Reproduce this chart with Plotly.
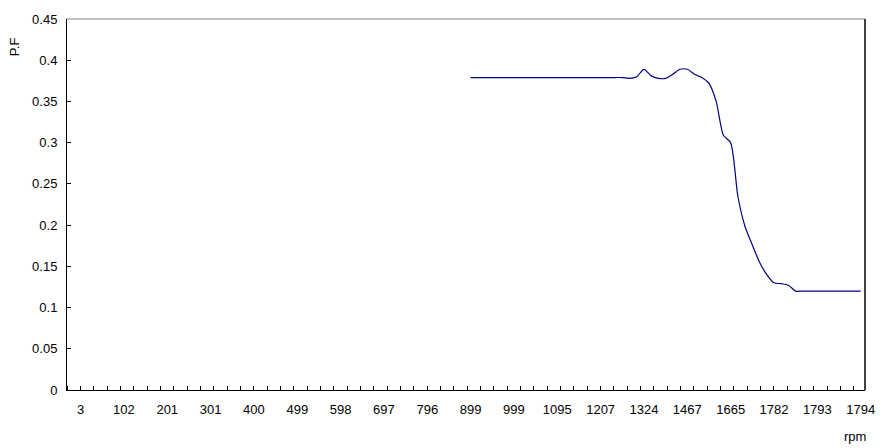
import plotly.graph_objects as go

# ---- data ----
tick_labels = ["3", "102", "201", "301", "400", "499", "598", "697", "796", "899",
               "999", "1095", "1207", "1324", "1467", "1665", "1782", "1793", "1794"]
samples_per_label = 6  # sample index s -> label position s/6

sample_index = list(range(54, 109))
pf_values = [
    0.379, 0.379, 0.379, 0.379, 0.379, 0.379, 0.379, 0.379, 0.379, 0.379,   # 54-63
    0.379, 0.379, 0.379, 0.379, 0.379, 0.379, 0.379, 0.379, 0.379, 0.379,   # 64-73
    0.379, 0.379, 0.378, 0.380, 0.389, 0.381, 0.378, 0.378, 0.383, 0.389,   # 74-83
    0.389, 0.383, 0.379, 0.372, 0.350, 0.309, 0.300, 0.235, 0.198, 0.176,   # 84-93
    0.155, 0.140, 0.130, 0.129, 0.127, 0.120, 0.120, 0.120, 0.120, 0.120,   # 94-103
    0.120, 0.120, 0.120, 0.120, 0.120,                                      # 104-108
]

x_vals = [s / samples_per_label for s in sample_index]

font_family = "Liberation Sans, Arial, sans-serif"

fig = go.Figure()
fig.add_trace(go.Scatter(
    x=x_vals, y=pf_values, mode="lines",
    line=dict(color="#000080", width=1.2, shape="spline", smoothing=0.7),
    hoverinfo="skip", showlegend=False,
))

x_lo, x_hi = -0.313, 18.1
minor_step = 4 / 13

fig.update_layout(
    width=887, height=448,
    margin=dict(l=67, r=15, t=15, b=58),
    paper_bgcolor="white", plot_bgcolor="white",
    font=dict(family=font_family, size=13, color="black"),
    xaxis=dict(
        range=[x_lo, x_hi], showgrid=False, zeroline=False,
        tickmode="array", tickvals=list(range(len(tick_labels))), ticktext=tick_labels,
        ticks="", showline=True, linecolor="black", linewidth=1,
        ticklabelstandoff=7,
        minor=dict(ticks="inside", ticklen=4, tickcolor="black", tickwidth=1,
                   tick0=x_lo, dtick=minor_step, showgrid=False),
    ),
    yaxis=dict(
        range=[0, 0.45], dtick=0.05, tick0=0, showgrid=False, zeroline=False,
        ticks="inside", ticklen=4, tickcolor="black", tickwidth=1,
        showline=True, linecolor="black", linewidth=1, mirror=False,
        tickformat="~g", ticklabelstandoff=6,
    ),
    shapes=[
        dict(type="line", xref="paper", yref="paper", x0=0, x1=1, y0=1, y1=1,
             line=dict(color="#808080", width=1)),
        dict(type="line", xref="paper", yref="paper", x0=1, x1=1, y0=0, y1=1,
             line=dict(color="black", width=1.5)),
    ],
    annotations=[
        dict(text="P.F", xref="paper", yref="paper", x=-0.066, y=0.925,
             showarrow=False, textangle=-90, font=dict(size=13),
             xanchor="center", yanchor="middle"),
        dict(text="rpm", xref="paper", yref="paper", x=0.988, y=-0.125,
             showarrow=False, font=dict(size=13), xanchor="center", yanchor="middle"),
    ],
)

fig.write_html("out.html", config={"displayModeBar": False},
               post_script="document.body.style.margin='0px';document.body.style.overflow='hidden';")
